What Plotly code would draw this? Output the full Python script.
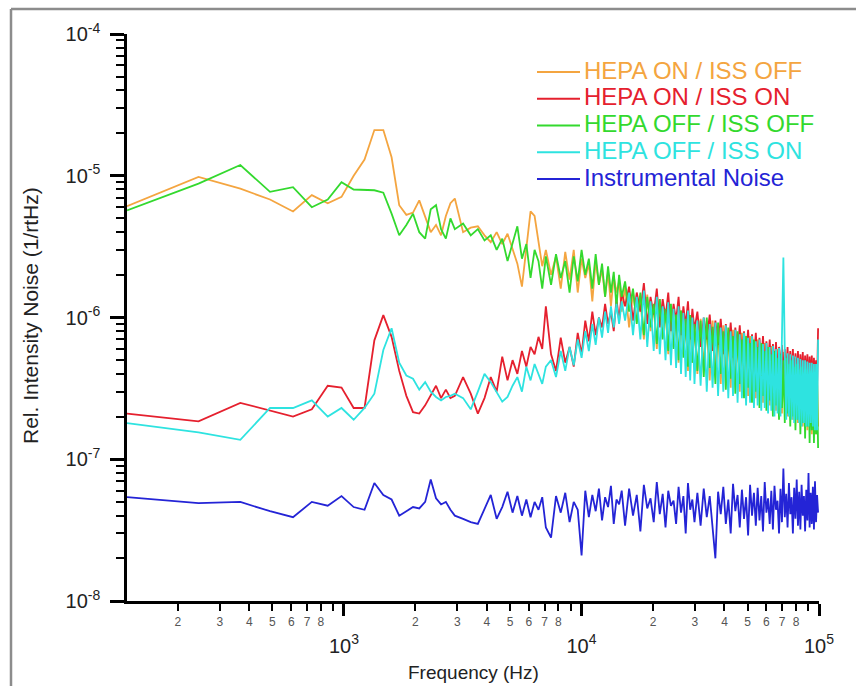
import plotly.graph_objects as go

# ---------------------------------------------------------------- data
DF = 122.07  # FFT bin width in Hz
BINS = (list(range(1, 25)) + list(range(26, 59, 2)) + list(range(61, 122, 3))
        + list(range(125, 246, 5)) + list(range(252, 813, 8)))
FREQ = [k * DF for k in BINS]

UNIT = 1e-8  # all spectra below are listed in units of 1e-8 / rtHz

HEPA_ON_ISS_OFF = [
    610, 980, 810, 680, 560, 730, 640, 710, 1000, 1300, 2100, 2100, 1350, 620, 530, 550, 670, 520, 400, 450, 380, 520, 640, 690,
    400, 430, 440, 380, 340, 400, 330, 390, 300, 240, 165, 300, 560, 520, 330, 230, 300,
    200, 270, 160, 290, 185, 300, 150, 260, 190, 240, 130, 250, 170, 220, 140, 210, 120, 195, 150, 180, 110,
    165, 85, 150, 95, 130, 70, 145, 80, 120, 60, 135, 72, 110, 55, 120, 62, 100, 48, 112, 55, 92, 42, 104, 48, 88,
    40, 98, 45, 90, 36, 95, 42, 84, 34, 88, 40, 78, 32, 82, 37, 74, 30, 78, 35, 70,
    28, 74, 33, 66, 27, 70, 31, 63, 25, 66, 29, 60, 24, 63, 28, 57, 22, 60, 26, 55,
    21, 57, 25, 52, 20, 55, 23, 50, 19, 52, 22, 48, 18, 50, 21, 46, 17, 48, 20, 45,
    16, 46, 19, 43, 15, 44, 18, 42, 15, 43, 17,
]

HEPA_ON_ISS_ON = [
    21, 18.5, 25, 22, 20, 22.5, 33, 32, 23, 23, 69, 104, 73, 42, 28, 21.5, 21, 24, 28, 33, 27, 31, 27, 28,
    38, 29, 21, 27, 38, 30, 53, 36, 50, 40, 58, 45, 62, 55, 73, 60, 120,
    55, 42, 72, 48, 62, 45, 78, 55, 95, 68, 110, 75, 100, 85, 125, 90, 110, 80, 135, 95, 150,
    120, 165, 95, 150, 110, 175, 90, 140, 105, 160, 85, 135, 100, 150, 80, 125, 95, 140, 75, 120, 88, 130, 70, 115, 82,
    110, 62, 100, 70, 105, 58, 95, 64, 98, 55, 90, 60, 92, 52, 85, 57, 88, 50, 80, 54,
    82, 47, 76, 51, 78, 45, 72, 48, 74, 43, 68, 46, 70, 41, 65, 44, 67, 39, 62, 42,
    64, 38, 60, 40, 62, 36, 58, 39, 60, 35, 56, 38, 58, 34, 55, 37, 57, 33, 54, 36,
    55, 32, 53, 35, 54, 31, 52, 34, 50, 33, 84,
]

HEPA_OFF_ISS_OFF = [
    570, 880, 1190, 770, 830, 600, 680, 900, 800, 790, 790, 760, 540, 380, 450, 540, 400, 360, 580, 620, 420, 360, 500, 420,
    460, 380, 420, 350, 380, 300, 360, 250, 330, 440, 260, 330, 190, 300, 250, 160, 270,
    170, 280, 190, 250, 150, 270, 180, 300, 200, 260, 160, 280, 170, 240, 140, 230, 150, 210, 120, 200, 140,
    180, 110, 160, 90, 150, 75, 140, 85, 125, 65, 135, 70, 115, 58, 125, 60, 105, 50, 112, 52, 98, 45, 104, 48, 90,
    42, 95, 38, 100, 44, 86, 34, 92, 40, 80, 31, 85, 37, 74, 29, 80, 34, 70, 27, 74,
    32, 66, 25, 70, 30, 62, 23, 66, 28, 58, 22, 62, 26, 55, 20, 58, 24, 52, 19, 55,
    23, 50, 18, 52, 21, 47, 17, 50, 20, 45, 16, 47, 19, 43, 15, 45, 18, 41, 14, 43,
    17, 40, 13, 42, 16, 38, 13, 40, 15, 36, 12,
]

HEPA_OFF_ISS_ON = [
    18, 15.5, 13.7, 23, 23, 26, 20, 23, 19, 23, 29, 59, 84, 48, 39, 37, 31, 35, 30, 27.5, 26, 27.5, 28, 29,
    27, 22.5, 30, 40, 35, 30, 25.5, 27.5, 33, 38, 30, 45, 36, 47, 40, 34, 45,
    50, 38, 58, 42, 62, 46, 70, 52, 80, 58, 90, 64, 100, 72, 110, 78, 120, 85, 125, 90, 130,
    95, 150, 75, 140, 70, 155, 62, 130, 58, 140, 55, 120, 50, 128, 46, 115, 44, 120, 40, 108, 38, 112, 36, 100, 34,
    95, 33, 100, 30, 90, 32, 92, 28, 85, 30, 88, 27, 80, 28, 82, 25, 76, 27, 78, 24,
    72, 25, 74, 23, 68, 24, 70, 22, 65, 23, 66, 21, 62, 22, 63, 20, 60, 21, 61, 20,
    58, 265, 57, 19, 56, 20, 55, 19, 54, 18, 53, 19, 52, 18, 51, 17, 50, 18, 50, 17,
    49, 17, 48, 18, 48, 17, 47, 16, 47, 16, 70,
]

INSTRUMENTAL_NOISE = [
    5.4, 4.9, 5.0, 4.3, 3.9, 5.0, 4.7, 5.5, 4.6, 4.4, 6.8, 5.6, 5.2, 4.0, 4.3, 4.6, 4.5, 5.0, 7.2, 5.3, 4.8, 5.0, 4.4, 4.0,
    3.8, 3.6, 3.5, 4.5, 5.6, 3.8, 4.6, 5.9, 4.2, 5.5, 4.0, 5.2, 3.9, 5.0, 4.4, 5.4, 3.3,
    2.8, 5.5, 4.2, 5.8, 3.6, 5.0, 4.4, 2.1, 6.0, 3.9, 5.6, 4.3, 6.2, 3.7, 5.4, 4.6, 6.5, 3.5, 5.2, 4.8, 6.0,
    3.4, 6.2, 4.0, 5.6, 3.1, 6.6, 4.5, 5.3, 3.6, 6.9, 4.1, 5.7, 3.3, 6.0, 4.7, 5.1, 3.5, 6.4, 4.2, 5.5, 3.0, 6.8, 4.4, 5.2, 3.6,
    5.8, 3.4, 6.2, 3.9, 5.5, 3.2, 2.0, 5.9, 4.1, 6.4, 3.5, 5.2, 3.0, 6.7, 4.3, 5.6, 3.3, 6.1, 3.8, 5.4,
    2.9, 6.6, 4.0, 5.8, 3.4, 6.3, 3.7, 5.5, 3.1, 6.9, 4.2, 5.3, 3.5, 6.0, 3.2, 6.5, 4.4, 5.1, 3.0, 6.2,
    3.6, 8.6, 3.9, 5.7, 3.3, 6.8, 4.1, 5.4, 3.0, 6.3, 3.8, 7.2, 3.4, 5.9, 3.2, 6.6, 4.0, 5.5, 3.1, 6.1,
    3.7, 8.0, 3.3, 5.8, 3.5, 6.4, 3.2, 7.0, 3.6, 5.6, 4.2,
]

SERIES_NAMES = ["HEPA ON / ISS OFF", "HEPA ON / ISS ON", "HEPA OFF / ISS OFF",
                "HEPA OFF / ISS ON", "Instrumental Noise"]
SERIES_DATA = [HEPA_ON_ISS_OFF, HEPA_ON_ISS_ON, HEPA_OFF_ISS_OFF,
               HEPA_OFF_ISS_ON, INSTRUMENTAL_NOISE]
SERIES_COLORS = ["#F4A540", "#E5202E", "#33D92E", "#2EE3E0", "#2424D6"]

for s in SERIES_DATA:
    assert len(s) == len(FREQ), (len(s), len(FREQ))

# axis ticks
X_MAJOR = [1e3, 1e4, 1e5]
X_MAJOR_TEXT = ["10<sup>3</sup>", "10<sup>4</sup>", "10<sup>5</sup>"]
X_MINOR = [d * 10 ** e for e in (2, 3, 4) for d in range(2, 10)]
X_MINOR_TEXT = [str(d) if d < 9 else " " for e in (2, 3, 4) for d in range(2, 10)]
Y_MAJOR = [1e-8, 1e-7, 1e-6, 1e-5, 1e-4]
Y_MAJOR_TEXT = ["10<sup>-8</sup>", "10<sup>-7</sup>", "10<sup>-6</sup>",
                "10<sup>-5</sup>", "10<sup>-4</sup>"]
Y_MINOR = [d * 10.0 ** e for e in (-8, -7, -6, -5) for d in range(2, 10)]

X_RANGE = [2.0866, 5.0]   # log10(Hz)
Y_RANGE = [-8, -4]        # log10(1/rtHz)

# ---------------------------------------------------------------- layout geometry
W, H = 856, 686
ML, MR, MT, MB = 127, 37, 34, 85
PW, PH = W - ML - MR, H - MT - MB


def px(x):
    return (x - ML) / PW


def py(y):
    return (H - MB - y) / PH


FONT = "Liberation Sans, Arial, sans-serif"

fig = go.Figure()
for i, (name, vals, col) in enumerate(zip(SERIES_NAMES, SERIES_DATA, SERIES_COLORS)):
    # the last spectrum sits on the overlaid x axis that carries the digit labels
    xa = "x2" if i == len(SERIES_NAMES) - 1 else "x"
    fig.add_trace(go.Scatter(
        x=FREQ, y=[v * UNIT for v in vals], mode="lines", name=name,
        line=dict(color=col, width=1.8), showlegend=False, xaxis=xa, yaxis="y",
    ))

axis_common = dict(showgrid=False, zeroline=False, type="log")

fig.update_layout(
    width=W, height=H,
    margin=dict(l=ML, r=MR, t=MT, b=MB),
    paper_bgcolor="white", plot_bgcolor="white",
    font=dict(family=FONT, color="#222"),
    xaxis=dict(
        **axis_common, range=X_RANGE,
        showline=True, linecolor="black", linewidth=2.5,
        tickmode="array", tickvals=X_MAJOR, ticktext=X_MAJOR_TEXT,
        ticks="outside", ticklen=12, tickwidth=2.5, tickcolor="black",
        tickfont=dict(size=20, color="#222"), ticklabelstandoff=13,
        minor=dict(tickmode="array", tickvals=X_MINOR, ticks="outside",
                   ticklen=7, tickwidth=2, tickcolor="black"),
    ),
    xaxis2=dict(
        **axis_common, range=X_RANGE, overlaying="x", anchor="y", side="bottom",
        showline=False, tickmode="array", tickvals=X_MINOR, ticktext=X_MINOR_TEXT,
        ticks="", tickfont=dict(size=12, color="#555"), ticklabelstandoff=12,
    ),
    yaxis=dict(
        **axis_common, range=Y_RANGE,
        showline=True, linecolor="black", linewidth=2.5,
        tickmode="array", tickvals=Y_MAJOR, ticktext=Y_MAJOR_TEXT,
        ticks="outside", ticklen=14, tickwidth=2.5, tickcolor="black",
        tickfont=dict(size=20, color="#222"), ticklabelstandoff=6,
        minor=dict(tickmode="array", tickvals=Y_MINOR, ticks="outside",
                   ticklen=8, tickwidth=2, tickcolor="black"),
    ),
)

annotations = [
    dict(text="Rel. Intensity Noise (1/rtHz)", x=px(30), y=py(316), xref="paper", yref="paper",
         textangle=-90, showarrow=False, xanchor="center", yanchor="middle",
         font=dict(size=21, family=FONT, color="#222")),
    dict(text="Frequency (Hz)", x=0.5, y=py(685), xref="paper", yref="paper",
         showarrow=False, xanchor="center", yanchor="bottom",
         font=dict(size=19, family=FONT, color="#222")),
]
shapes = [
    # outer frame
    dict(type="line", xref="paper", yref="paper", x0=px(11), x1=px(W + 5), y0=py(9), y1=py(9),
         line=dict(color="#8c8c8c", width=2.5)),
    dict(type="line", xref="paper", yref="paper", x0=px(11), x1=px(11), y0=py(9), y1=py(H + 5),
         line=dict(color="#8c8c8c", width=2.5)),
]

# legend: coloured line sample followed by coloured label
LEG_TOP, LEG_STEP = 70, 26.75
for i, (name, col) in enumerate(zip(SERIES_NAMES, SERIES_COLORS)):
    yc = LEG_TOP + i * LEG_STEP
    shapes.append(dict(type="line", xref="paper", yref="paper",
                       x0=px(537), x1=px(580), y0=py(yc + 2), y1=py(yc + 2),
                       line=dict(color=col, width=2)))
    annotations.append(dict(text=name, x=px(582), y=py(yc), xref="paper", yref="paper",
                            showarrow=False, xanchor="left", yanchor="middle",
                            font=dict(size=24, family=FONT, color=col)))

fig.update_layout(annotations=annotations, shapes=shapes)

fig.write_html("out.html")
